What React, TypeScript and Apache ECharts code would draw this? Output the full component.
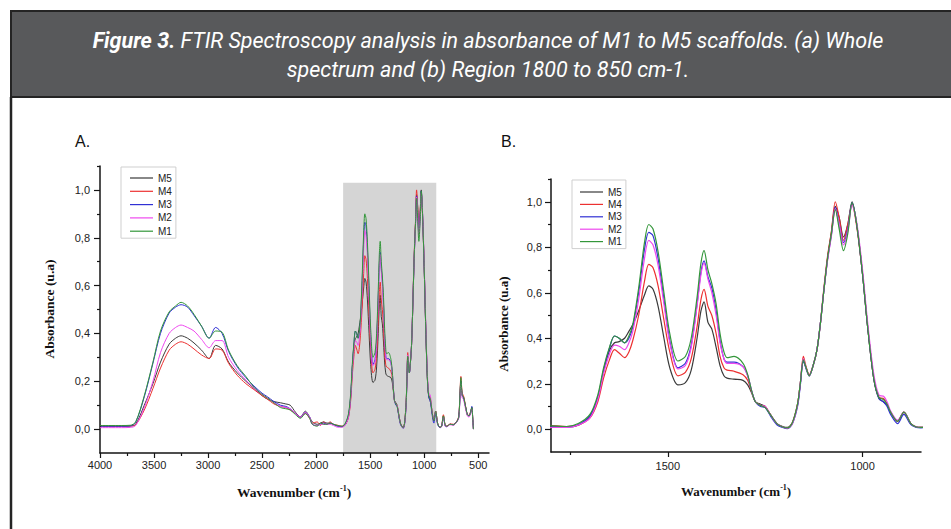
import React, { useEffect, useRef } from "react";
import * as echarts from "echarts";

// Wavenumber (cm-1) sampling points, descending
const wavenumbers = [
  4000, 3800, 3720, 3670, 3590, 3510, 3440, 3360, 3300, 3250, 3190, 3130, 3060, 2990, 2930, 2870, 2810, 2730, 2650, 2575,
  2500, 2450, 2390, 2330, 2280, 2240, 2190, 2145, 2100, 2060, 2035, 1990, 1960, 1930, 1900, 1870, 1840,
  1800, 1760, 1730, 1700, 1680, 1665, 1650, 1637, 1625, 1611, 1600, 1590, 1575, 1560, 1549, 1538, 1525, 1510, 1495, 1474,
  1455, 1440, 1425, 1415, 1407, 1397, 1387, 1376, 1366, 1356, 1348, 1330, 1307, 1295, 1285, 1275, 1262, 1250, 1237, 1220,
  1205, 1193, 1180, 1167, 1160, 1152, 1145, 1137, 1127, 1117, 1108, 1100, 1090, 1080, 1070, 1060, 1049, 1038, 1027, 1015,
  1000, 987, 971, 958, 946, 937, 928, 910, 894, 876, 862, 850,
  838, 822, 805, 790, 760, 730, 700, 680, 668, 660, 648, 636, 620, 600, 585, 570, 559, 550, 544,
];

const m1 = [
  0.015, 0.015, 0.016, 0.03, 0.14, 0.28, 0.41, 0.49, 0.515, 0.53, 0.515, 0.48, 0.43, 0.38, 0.41, 0.405, 0.33, 0.265, 0.22, 0.175,
  0.145, 0.13, 0.11, 0.09, 0.085, 0.08, 0.06, 0.045, 0.065, 0.045, 0.02, 0.012, 0.025, 0.02, 0.02, 0.025, 0.02,
  0.015, 0.012, 0.025, 0.065, 0.15, 0.27, 0.36, 0.41, 0.4, 0.38, 0.41, 0.46, 0.62, 0.82, 0.9, 0.88, 0.78, 0.6, 0.42, 0.3,
  0.32, 0.4, 0.58, 0.73, 0.785, 0.7, 0.64, 0.55, 0.42, 0.34, 0.315, 0.32, 0.29, 0.24, 0.17, 0.12, 0.105, 0.095, 0.065, 0.025,
  0.01, 0.006, 0.03, 0.11, 0.2, 0.305, 0.27, 0.235, 0.28, 0.35, 0.47, 0.6, 0.75, 0.86, 0.965, 0.88, 0.785, 0.86, 0.995, 0.9,
  0.68, 0.45, 0.22, 0.14, 0.13, 0.11, 0.075, 0.035, 0.075, 0.025, 0.01, 0.008,
  0.012, 0.055, 0.015, 0.012, 0.02, 0.018, 0.03, 0.05, 0.15, 0.215, 0.14, 0.135, 0.1, 0.06, 0.055, 0.07, 0.09, 0.04, 0.0,
];

const m2 = [
  0.006, 0.006, 0.007, 0.015, 0.09, 0.2, 0.32, 0.4, 0.425, 0.435, 0.425, 0.41, 0.375, 0.34, 0.37, 0.37, 0.3, 0.245, 0.205, 0.17,
  0.145, 0.13, 0.11, 0.095, 0.09, 0.085, 0.065, 0.05, 0.07, 0.05, 0.02, 0.015, 0.02, 0.02, 0.02, 0.02, 0.015,
  0.008, 0.008, 0.018, 0.05, 0.13, 0.245, 0.33, 0.37, 0.365, 0.35, 0.38, 0.43, 0.57, 0.75, 0.83, 0.81, 0.72, 0.55, 0.38, 0.265,
  0.28, 0.36, 0.54, 0.68, 0.73, 0.66, 0.6, 0.5, 0.38, 0.31, 0.29, 0.29, 0.275, 0.235, 0.17, 0.12, 0.105, 0.1, 0.065, 0.025,
  0.01, 0.004, 0.025, 0.105, 0.2, 0.31, 0.27, 0.235, 0.28, 0.35, 0.47, 0.6, 0.74, 0.85, 0.97, 0.9, 0.81, 0.87, 0.985, 0.91,
  0.7, 0.47, 0.24, 0.15, 0.145, 0.12, 0.08, 0.04, 0.075, 0.025, 0.01, 0.008,
  0.01, 0.05, 0.012, 0.01, 0.018, 0.016, 0.028, 0.045, 0.13, 0.19, 0.13, 0.125, 0.09, 0.055, 0.05, 0.065, 0.085, 0.035, 0.0,
];

const m3 = [
  0.012, 0.012, 0.013, 0.028, 0.135, 0.275, 0.4, 0.485, 0.51, 0.52, 0.51, 0.475, 0.43, 0.38, 0.425, 0.4, 0.325, 0.26, 0.215, 0.18,
  0.15, 0.135, 0.115, 0.1, 0.095, 0.085, 0.065, 0.05, 0.07, 0.05, 0.02, 0.015, 0.02, 0.025, 0.02, 0.025, 0.02,
  0.012, 0.01, 0.02, 0.06, 0.14, 0.26, 0.355, 0.41, 0.4, 0.38, 0.4, 0.45, 0.6, 0.79, 0.865, 0.85, 0.75, 0.57, 0.39, 0.27,
  0.29, 0.37, 0.55, 0.69, 0.74, 0.67, 0.62, 0.52, 0.39, 0.31, 0.295, 0.295, 0.275, 0.235, 0.17, 0.12, 0.1, 0.095, 0.06, 0.02,
  0.008, 0.003, 0.025, 0.1, 0.19, 0.3, 0.265, 0.235, 0.28, 0.35, 0.47, 0.6, 0.745, 0.855, 0.975, 0.9, 0.82, 0.88, 0.995, 0.9,
  0.68, 0.45, 0.22, 0.135, 0.12, 0.1, 0.065, 0.025, 0.065, 0.02, 0.008, 0.006,
  0.012, 0.05, 0.012, 0.01, 0.02, 0.018, 0.03, 0.05, 0.14, 0.2, 0.14, 0.13, 0.1, 0.06, 0.055, 0.07, 0.095, 0.04, 0.0,
];

const m4 = [
  0.013, 0.013, 0.013, 0.018, 0.08, 0.17, 0.255, 0.33, 0.355, 0.365, 0.355, 0.335, 0.31, 0.295, 0.335, 0.33, 0.275, 0.225, 0.19, 0.165,
  0.14, 0.125, 0.105, 0.095, 0.09, 0.08, 0.065, 0.05, 0.065, 0.045, 0.025, 0.03, 0.015, 0.03, 0.02, 0.03, 0.02,
  0.016, 0.012, 0.018, 0.05, 0.12, 0.225, 0.305, 0.35, 0.335, 0.315, 0.34, 0.39, 0.5, 0.65, 0.725, 0.71, 0.63, 0.48, 0.34, 0.235,
  0.25, 0.31, 0.45, 0.57, 0.615, 0.54, 0.5, 0.42, 0.32, 0.27, 0.26, 0.255, 0.24, 0.215, 0.165, 0.12, 0.105, 0.1, 0.065, 0.025,
  0.01, 0.006, 0.03, 0.11, 0.2, 0.32, 0.275, 0.24, 0.28, 0.35, 0.47, 0.61, 0.76, 0.87, 1.0, 0.93, 0.83, 0.9, 0.99, 0.89,
  0.68, 0.45, 0.22, 0.14, 0.135, 0.11, 0.075, 0.035, 0.075, 0.025, 0.01, 0.008,
  0.015, 0.06, 0.015, 0.012, 0.022, 0.02, 0.032, 0.055, 0.16, 0.22, 0.15, 0.14, 0.105, 0.06, 0.058, 0.075, 0.09, 0.045, 0.0,
];

const m5 = [
  0.012, 0.012, 0.013, 0.02, 0.1, 0.19, 0.28, 0.355, 0.38, 0.39, 0.38, 0.36, 0.33, 0.295, 0.35, 0.335, 0.28, 0.235, 0.2, 0.17,
  0.14, 0.125, 0.115, 0.11, 0.105, 0.1, 0.07, 0.05, 0.075, 0.05, 0.03, 0.02, 0.025, 0.03, 0.025, 0.025, 0.02,
  0.012, 0.01, 0.018, 0.055, 0.135, 0.255, 0.345, 0.38, 0.385, 0.4, 0.43, 0.46, 0.52, 0.59, 0.63, 0.615, 0.54, 0.4, 0.27, 0.195,
  0.205, 0.26, 0.4, 0.52, 0.56, 0.47, 0.44, 0.36, 0.28, 0.235, 0.225, 0.22, 0.215, 0.195, 0.16, 0.12, 0.11, 0.1, 0.065, 0.025,
  0.012, 0.008, 0.03, 0.11, 0.2, 0.3, 0.27, 0.235, 0.28, 0.35, 0.47, 0.6, 0.75, 0.865, 0.98, 0.93, 0.845, 0.9, 1.0, 0.9,
  0.68, 0.45, 0.22, 0.135, 0.12, 0.105, 0.075, 0.035, 0.075, 0.025, 0.01, 0.008,
  0.012, 0.055, 0.015, 0.012, 0.02, 0.018, 0.03, 0.05, 0.15, 0.2, 0.14, 0.135, 0.1, 0.06, 0.055, 0.07, 0.09, 0.04, 0.0,
];

const seriesNames = ["M5", "M4", "M3", "M2", "M1"];
const seriesValues = [m5, m4, m3, m2, m1];
const seriesColors = ["#3a3a3a", "#ec3030", "#3030d4", "#ee48ee", "#33963a"];

const xLabelsA = [4000, 3500, 3000, 2500, 2000, 1500, 1000, 500];
const xMinorA = [3750, 3250, 2750, 2250, 1750, 1250, 750];
const xLabelsB = [1500, 1000];
const xMinorB = [1750, 1250];
const yLabels = [0, 0.2, 0.4, 0.6, 0.8, 1.0];
const yMinor = [0.1, 0.3, 0.5, 0.7, 0.9, 1.1];
const regionX = [1750, 888];
const regionY = [-0.1, 1.03];

const AXIS_COLOR = "#151515";
const SANS = "Liberation Sans, Arial, sans-serif";
const SERIF = "Liberation Serif, Times New Roman, serif";
const LEGEND_LINE_ICON = "path://M0,0 L0,0 M0,4.4 L23,4.4 L23,5.6 L0,5.6 Z M0,10 L0,10";

function xAxes(gridIndex: number, min: number, max: number, labels: number[], minor: number[], labelMargin: number, fontSize: number) {
  return [
    {
      type: "value", gridIndex, min, max, inverse: true, position: "bottom", z: 6,
      axisLine: { show: true, onZero: false, lineStyle: { color: AXIS_COLOR, width: 1.5 } },
      axisTick: { show: true, customValues: labels, length: 5, lineStyle: { color: AXIS_COLOR, width: 1.2 } },
      axisLabel: {
        show: true, customValues: labels, margin: labelMargin, color: "#222", fontSize, fontFamily: SANS,
        formatter: (v: number) => String(v),
      },
      splitLine: { show: false },
    },
    {
      type: "value", gridIndex, min, max, inverse: true, position: "bottom", z: 6,
      axisLine: { show: false, onZero: false },
      axisTick: { show: true, customValues: minor, length: 3, lineStyle: { color: AXIS_COLOR, width: 1.2 } },
      axisLabel: { show: false },
      splitLine: { show: false },
    },
  ];
}

function yAxes(gridIndex: number, labelMargin: number) {
  return [
    {
      type: "value", gridIndex, min: -0.1, max: 1.1, position: "left", z: 6,
      axisLine: { show: true, onZero: false, lineStyle: { color: AXIS_COLOR, width: 1.5 } },
      axisTick: { show: true, customValues: yLabels, length: 6, lineStyle: { color: AXIS_COLOR, width: 1.2 } },
      axisLabel: {
        show: true, customValues: yLabels, margin: labelMargin, color: "#222", fontSize: 11, fontFamily: SANS,
        formatter: (v: number) => v.toFixed(1).replace(".", ","),
      },
      splitLine: { show: false },
    },
    {
      type: "value", gridIndex, min: -0.1, max: 1.1, position: "left", z: 6,
      axisLine: { show: false, onZero: false },
      axisTick: { show: true, customValues: yMinor, length: 3, lineStyle: { color: AXIS_COLOR, width: 1.2 } },
      axisLabel: { show: false },
      splitLine: { show: false },
    },
  ];
}

function lineSeries(xAxisIndex: number, yAxisIndex: number, width: number) {
  return seriesNames.map((name, k) => ({
    type: "line",
    name,
    xAxisIndex,
    yAxisIndex,
    data: wavenumbers.map((w, i) => [w, seriesValues[k][i]]),
    showSymbol: false,
    symbol: "none",
    smooth: 0.3,
    clip: true,
    z: 3 + k,
    color: seriesColors[k],
    lineStyle: { color: seriesColors[k], width },
  }));
}

function axisTitle(x: number, y: number, size: number) {
  return {
    type: "text",
    x,
    y,
    style: {
      text: "{a|Wavenumber (cm}{s|-1}{a|)}",
      align: "center",
      verticalAlign: "middle",
      fill: "#111",
      rich: {
        a: { fontFamily: SERIF, fontWeight: "bold", fontSize: size, lineHeight: 16, fill: "#111" },
        s: { fontFamily: SERIF, fontWeight: "bold", fontSize: 8, lineHeight: 8, verticalAlign: "top", fill: "#111" },
      },
    },
  };
}

function yTitle(x: number, y: number, size: number) {
  return {
    type: "text",
    x,
    y,
    rotation: Math.PI / 2,
    style: {
      text: "Absorbance (u.a)",
      align: "center",
      verticalAlign: "middle",
      fill: "#111",
      fontFamily: SERIF,
      fontWeight: "bold",
      fontSize: size,
    },
  };
}

export default function App() {
  const ref = useRef<HTMLDivElement>(null);

  useEffect(() => {
    if (!ref.current) return;
    const chart = echarts.init(ref.current, null, { renderer: "svg" });

    const legendCommon = {
      orient: "vertical",
      icon: LEGEND_LINE_ICON,
      itemWidth: 23,
      itemHeight: 10,
      selectedMode: false,
      borderColor: "#cfcfcf",
      borderWidth: 1,
      backgroundColor: "#fff",
      textStyle: { fontSize: 10, color: "#222", fontFamily: SANS },
      data: seriesNames,
    };

    const option: any = {
      animation: false,
      backgroundColor: "#ffffff",
      grid: [
        { left: 100, top: 166, width: 389, height: 287, containLabel: false, outerBoundsMode: "none" },
        { left: 551, top: 179, width: 370, height: 273, containLabel: false, outerBoundsMode: "none" },
      ],
      xAxis: [
        ...xAxes(0, 400, 4000, xLabelsA, xMinorA, 6, 11),
        ...xAxes(1, 850, 1800, xLabelsB, xMinorB, 8, 11),
      ],
      yAxis: [...yAxes(0, 10), ...yAxes(1, 9)],
      legend: [
        { ...legendCommon, left: 121, top: 167, itemGap: 3.3, padding: [6, 4, 2, 9] },
        { ...legendCommon, left: 572, top: 180, itemGap: 2.4, padding: [7, 4, 2, 8] },
      ],
      series: [
        {
          type: "line",
          name: "region",
          xAxisIndex: 0,
          yAxisIndex: 0,
          data: [],
          z: 1,
          silent: true,
          markArea: {
            silent: true,
            itemStyle: { color: "#d5d5d5" },
            data: [[{ coord: [regionX[0], regionY[0]] }, { coord: [regionX[1], regionY[1]] }]],
          },
        },
        ...lineSeries(0, 0, 1),
        ...lineSeries(2, 2, 1.2),
      ],
      graphic: [
        {
          type: "rect",
          shape: { x: 11, y: 11, width: 960, height: 86 },
          style: { fill: "#58595b", stroke: "#242424", lineWidth: 2 },
          z: 0,
        },
        {
          type: "line",
          shape: { x1: 11, y1: 97, x2: 11, y2: 540 },
          style: { stroke: "#242424", lineWidth: 2.5 },
        },
        {
          type: "text",
          x: 488,
          y: 40,
          style: {
            text: "{b|Figure 3.}{i| FTIR Spectroscopy analysis in absorbance of M1 to M5 scaffolds. (a) Whole}",
            align: "center",
            verticalAlign: "middle",
            fill: "#fff",
            rich: {
              b: { fontFamily: "Roboto", fontStyle: "italic", fontWeight: "bold", fontSize: 21.5, fill: "#fff" },
              i: { fontFamily: "Roboto", fontStyle: "italic", fontSize: 21.5, fill: "#fff" },
            },
          },
        },
        {
          type: "text",
          x: 488,
          y: 69,
          style: {
            text: "spectrum and (b) Region 1800 to 850 cm-1.",
            align: "center",
            verticalAlign: "middle",
            fill: "#fff",
            fontFamily: "Roboto",
            fontStyle: "italic",
            fontSize: 21.5,
          },
        },
        {
          type: "text",
          x: 75,
          y: 141,
          style: { text: "A.", fill: "#111", fontFamily: SANS, fontSize: 16, verticalAlign: "middle" },
        },
        {
          type: "text",
          x: 501,
          y: 141,
          style: { text: "B.", fill: "#111", fontFamily: SANS, fontSize: 16, verticalAlign: "middle" },
        },
        axisTitle(294, 492, 13.5),
        axisTitle(736, 491, 13),
        yTitle(49, 309, 13.5),
        yTitle(503, 324, 13),
      ],
    };

    chart.setOption(option);
    return () => chart.dispose();
  }, []);

  return (
    <div
      ref={ref}
      style={{ position: "fixed", left: 0, top: 0, width: 951, height: 529, background: "#fff" }}
    />
  );
}
